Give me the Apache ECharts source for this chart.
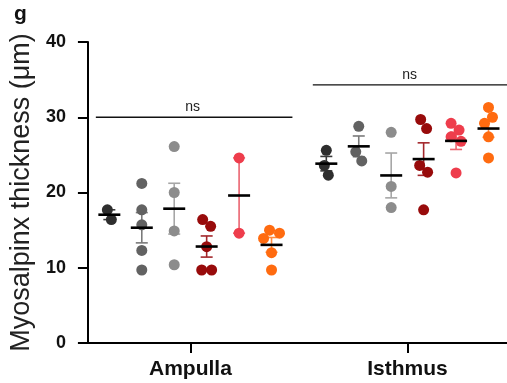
<!DOCTYPE html>
<html>
<head>
<meta charset="utf-8">
<script src="https://cdn.jsdelivr.net/npm/echarts@6/dist/echarts.min.js"></script>
<style>
html,body{margin:0;padding:0;background:#fff;}
#c{width:507px;height:383px;}
</style>
</head>
<body>
<div id="c"></div>
<script>
// ---- data ----
const categories = ['Ampulla', 'Isthmus'];
const ampulla = [
  [17.7, 16.4],
  [21.2, 17.7, 15.7, 12.3, 9.7],
  [26.1, 20.0, 14.9, 10.4],
  [16.4, 15.5, 12.8, 9.7, 9.7],
  [24.6, 14.6],
  [15.0, 14.6, 13.9, 12.0, 9.7]
];
const isthmus = [
  [25.6, 23.6, 22.3],
  [28.8, 25.4, 24.2],
  [28.0, 20.8, 18.0],
  [29.7, 28.5, 23.6, 22.7, 17.7],
  [29.2, 28.3, 27.4, 26.8, 22.6],
  [31.3, 30.0, 29.2, 27.4, 24.6]
];
const sigLabels = ['ns', 'ns'];
const sigLevels = [30, 34.3];
const yTicks = [0, 10, 20, 30, 40];

// ---- styles / layout ----
const dotColors = ['#2e2e2e', '#626262', '#8c8c8c', '#980b0b', '#ee3d4c', '#ff6b10'];
const barColors = ['#3a3a3a', '#7a7a7a', '#a6a6a6', '#a3272b', '#ea6470', '#ff8a3d'];
const FONT = '"Liberation Sans", Arial, Helvetica, sans-serif';
const gridL = 86, gridR = 0, gridT = 42, gridB = 40;
const W = 507, H = 383;
const xMin = -0.4725, xMax = 1.459;
const yMax = 40;
const xPx = (W - gridL - gridR) / (xMax - xMin);
const yPx = (H - gridT - gridB) / yMax;
const groupStep = 0.1495;
const sym = 11;

// simple beeswarm offsets (pixels) for one group
function swarm(vals) {
  const minD = 10, step = 2;
  const placed = [];
  vals.forEach((v, i) => {
    const py = v * yPx;
    let off = 0;
    for (let k = 0; k < 40; k++) {
      const cand = k === 0 ? 0 : (k % 2 ? 1 : -1) * Math.ceil(k / 2) * step;
      const ok = placed.every(p => Math.hypot(p.dx - cand, p.py - py) >= minD);
      if (ok) { off = cand; break; }
    }
    placed.push({dx: off, py: py, i: i});
  });
  const n = placed.length, cl = new Array(n).fill(-1);
  let c = 0;
  for (let i = 0; i < n; i++) {
    if (cl[i] >= 0) continue;
    const st = [i]; cl[i] = c;
    while (st.length) {
      const a = st.pop();
      for (let j = 0; j < n; j++) {
        if (cl[j] < 0 && Math.abs(placed[a].py - placed[j].py) < minD) { cl[j] = c; st.push(j); }
      }
    }
    c++;
  }
  for (let k = 0; k < c; k++) {
    const m = placed.filter((p, i) => cl[i] === k);
    const lo = Math.min(...m.map(p => p.dx)), hi = Math.max(...m.map(p => p.dx));
    m.forEach(p => p.dx -= (lo + hi) / 2);
  }
  return placed.map(p => p.dx);
}

const allData = [ampulla, isthmus];
const series = [];
const stats = [];
allData.forEach((cat, ci) => {
  cat.forEach((vals, gi) => {
    const xc = ci + (gi - 2.5) * groupStep;
    const offs = swarm(vals);
    const n = vals.length;
    const mean = vals.reduce((a, b) => a + b, 0) / n;
    const sd = Math.sqrt(vals.reduce((a, b) => a + (b - mean) * (b - mean), 0) / (n - 1));
    stats.push([xc, mean, sd / Math.sqrt(n), gi]);
    series.push({
      type: 'scatter',
      symbol: 'circle',
      symbolSize: sym,
      z: 3,
      itemStyle: {color: dotColors[gi], opacity: 1},
      data: vals.map((v, k) => [xc + offs[k] / xPx, v]),
      silent: true
    });
  });
});

// error bars (under points)
series.push({
  type: 'custom',
  z: 2,
  silent: true,
  data: stats,
  renderItem: function (params, api) {
    const x = api.value(0), m = api.value(1), s = api.value(2), g = api.value(3);
    const top = api.coord([x, m + s]), bot = api.coord([x, m - s]);
    const col = barColors[g];
    const st = {stroke: col, lineWidth: 1.6};
    return {type: 'group', children: [
      {type: 'line', shape: {x1: top[0], y1: top[1], x2: bot[0], y2: bot[1]}, style: st},
      {type: 'line', shape: {x1: top[0] - 6, y1: top[1], x2: top[0] + 6, y2: top[1]}, style: st},
      {type: 'line', shape: {x1: bot[0] - 6, y1: bot[1], x2: bot[0] + 6, y2: bot[1]}, style: st}
    ]};
  }
});
// mean lines (over points)
series.push({
  type: 'custom',
  z: 4,
  silent: true,
  data: stats,
  renderItem: function (params, api) {
    const c = api.coord([api.value(0), api.value(1)]);
    return {type: 'line', shape: {x1: c[0] - 11, y1: c[1], x2: c[0] + 11, y2: c[1]},
      style: {stroke: '#000', lineWidth: 2.6}};
  }
});
// significance lines
series.push({
  type: 'custom',
  z: 4,
  silent: true,
  clip: false,
  data: sigLevels.map((lv, i) => [i, lv]),
  renderItem: function (params, api) {
    const ci = api.value(0), lv = api.value(1);
    const a = api.coord([ci - 0.436, lv]), b = api.coord([Math.min(ci + 0.47, xMax), lv]);
    return {type: 'group', children: [
      {type: 'line', shape: {x1: a[0], y1: a[1], x2: b[0], y2: b[1]}, style: {stroke: '#111', lineWidth: 1.4}},
      {type: 'text', style: {text: sigLabels[ci], x: api.coord([ci + 0.01, lv])[0], y: a[1] - 3,
        align: 'center', verticalAlign: 'bottom', fontSize: 14, fontFamily: FONT, fill: '#222'}}
    ]};
  }
});

const chart = echarts.init(document.getElementById('c'), null, {renderer: 'canvas'});
chart.setOption({
  animation: false,
  backgroundColor: '#fff',
  grid: {left: gridL, right: gridR, top: gridT, bottom: gridB, containLabel: false},
  xAxis: {
    type: 'value', min: xMin, max: xMax,
    splitLine: {show: false},
    axisLine: {show: true, onZero: false, lineStyle: {color: '#000', width: 2}},
    axisTick: {show: true, length: 10, lineStyle: {color: '#000', width: 2}, customValues: [0, 1]},
    axisLabel: {
      customValues: [0, 1], margin: 16,
      formatter: v => categories[Math.round(v)],
      fontSize: 21, fontWeight: 'bold', color: '#111', fontFamily: FONT
    }
  },
  yAxis: {
    type: 'value', min: 0, max: yMax, interval: 10,
    splitLine: {show: false},
    axisLine: {show: true, onZero: false, lineStyle: {color: '#000', width: 2}},
    axisTick: {show: true, length: 10, lineStyle: {color: '#000', width: 2}},
    axisLabel: {
      margin: 22, fontSize: 18, fontWeight: 'bold', color: '#111', fontFamily: FONT,
      formatter: v => yTicks.includes(v) ? String(v) : ''
    },
    name: 'Myosalpinx thickness (μm)',
    nameLocation: 'middle', nameGap: 49,
    nameTextStyle: {fontSize: 27, color: '#222', fontFamily: FONT}
  },
  graphic: [{type: 'text', left: 14, top: 4,
    style: {text: 'g', fontSize: 21, fontWeight: 'bold', fill: '#111', fontFamily: FONT}}],
  series: series
});
</script>
</body>
</html>
